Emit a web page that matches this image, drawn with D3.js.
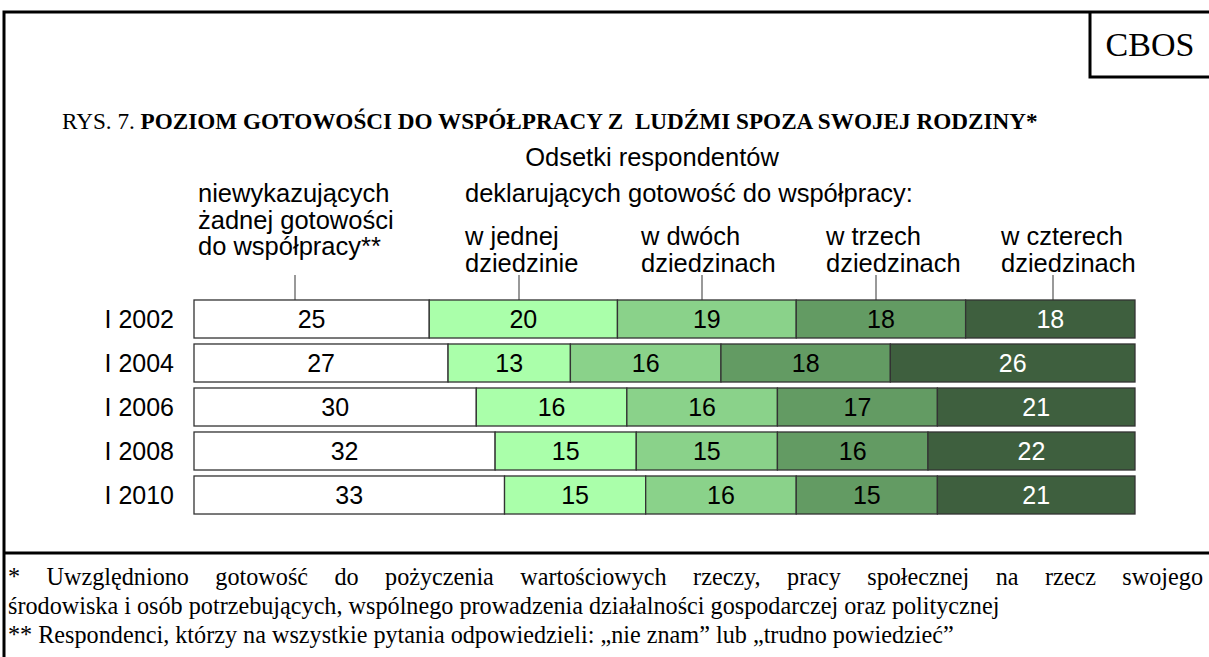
<!DOCTYPE html>
<html>
<head>
<meta charset="utf-8">
<script src="https://cdn.jsdelivr.net/npm/d3@7"></script>
<style>
  body { margin: 0; background: #fff; }
  svg { display: block; }
</style>
</head>
<body>
<div id="chart"></div>
<script>
// data
var years = ["I 2002", "I 2004", "I 2006", "I 2008", "I 2010"];
var noneValues = [25, 27, 30, 32, 33];
var oneValues = [20, 13, 16, 15, 15];
var twoValues = [19, 16, 16, 15, 16];
var threeValues = [18, 18, 17, 16, 15];
var fourValues = [18, 26, 21, 22, 21];
var seriesColors = ["#ffffff", "#aaffaa", "#8ad28a", "#639b63", "#3e5f3e"];
var headerLabels = [
    ["niewykazujących", "żadnej gotowości", "do współpracy**"],
    ["w jednej", "dziedzinie"],
    ["w dwóch", "dziedzinach"],
    ["w trzech", "dziedzinach"],
    ["w czterech", "dziedzinach"]
];

var width = 1209,
    height = 657;

var svg = d3.select("#chart").append("svg")
    .attr("width", width)
    .attr("height", height);

var serif = "'Liberation Serif', 'Times New Roman', serif",
    sans = "'Liberation Sans', Arial, sans-serif";

// frame
svg.append("path")
    .attr("d", "M4,720 V12 H1212")
    .attr("fill", "none")
    .attr("stroke", "#000")
    .attr("stroke-width", 3);
svg.append("path")
    .attr("d", "M1090,12 V77 H1212")
    .attr("fill", "none")
    .attr("stroke", "#000")
    .attr("stroke-width", 3);
svg.append("line")
    .attr("x1", 4).attr("x2", 1212)
    .attr("y1", 553).attr("y2", 553)
    .attr("stroke", "#000")
    .attr("stroke-width", 3);

svg.append("text")
    .attr("x", 1150).attr("y", 56)
    .attr("text-anchor", "middle")
    .style("font-family", serif)
    .style("font-size", "34px")
    .text("CBOS");

// title
var title = svg.append("text")
    .attr("x", 62).attr("y", 129)
    .style("font-family", serif)
    .style("font-size", "23.2px");
title.append("tspan").text("RYS. 7. ");
title.append("tspan")
    .style("font-weight", "bold")
    .text("POZIOM GOTOWOŚCI DO WSPÓŁPRACY Z\u00a0 LUDŹMI SPOZA SWOJEJ RODZINY*");

// scales
var x = d3.scaleLinear()
    .domain([0, 100])
    .range([194, 1135]);

var y = d3.scaleBand()
    .domain(years)
    .range([297, 517])
    .paddingInner(0.136)
    .paddingOuter(0.068);

// stack the series
var keys = ["none", "one", "two", "three", "four"];
var rows = years.map(function (yr, i) {
    return {
        year: yr,
        none: noneValues[i],
        one: oneValues[i],
        two: twoValues[i],
        three: threeValues[i],
        four: fourValues[i]
    };
});
var stacked = d3.stack().keys(keys)(rows);

// header texts
var headSize = "25.5px";
svg.append("text")
    .attr("x", 652).attr("y", 166)
    .attr("text-anchor", "middle")
    .style("font-family", sans)
    .style("font-size", headSize)
    .text("Odsetki respondentów");

svg.append("text")
    .attr("x", 465).attr("y", 202)
    .style("font-family", sans)
    .style("font-size", headSize)
    .text("deklarujących gotowość do współpracy:");

var headerX = [198, 465, 641, 826, 1001],
    headerY = [202, 245, 245, 245, 245],
    tickX = [295, 519, 702, 876, 1053];

headerLabels.forEach(function (lines, i) {
    var t = svg.append("text")
        .style("font-family", sans)
        .style("font-size", headSize);
    lines.forEach(function (line, j) {
        t.append("tspan")
            .attr("x", headerX[i])
            .attr("y", headerY[i] + j * 26.5)
            .text(line);
    });
    svg.append("line")
        .attr("x1", tickX[i]).attr("x2", tickX[i])
        .attr("y1", 275).attr("y2", y(years[0]))
        .attr("stroke", "#555")
        .attr("stroke-width", 1.2);
});

// bars
var layers = svg.selectAll(".layer")
    .data(stacked)
    .enter().append("g")
    .attr("class", "layer")
    .attr("fill", function (d, i) { return seriesColors[i]; });

layers.selectAll("rect")
    .data(function (d) { return d; })
    .enter().append("rect")
    .attr("x", function (d) { return x(d[0]); })
    .attr("y", function (d) { return y(d.data.year); })
    .attr("width", function (d) { return x(d[1]) - x(d[0]); })
    .attr("height", y.bandwidth())
    .attr("stroke", "#333")
    .attr("stroke-width", 1.3);

// values
layers.each(function (layer, i) {
    d3.select(this).selectAll(".val")
        .data(layer)
        .enter().append("text")
        .attr("class", "val")
        .attr("x", function (d) { return (x(d[0]) + x(d[1])) / 2; })
        .attr("y", function (d) { return y(d.data.year) + y.bandwidth() / 2; })
        .attr("dy", "0.36em")
        .attr("text-anchor", "middle")
        .attr("fill", i === 4 ? "#fff" : "#000")
        .style("font-family", sans)
        .style("font-size", "25px")
        .text(function (d) { return d[1] - d[0]; });
});

// row labels
var yAxis = svg.append("g")
    .attr("transform", "translate(174,0)")
    .call(d3.axisLeft(y).tickSize(0).tickPadding(0));
yAxis.select(".domain").remove();
yAxis.selectAll("text")
    .attr("dy", "0.36em")
    .style("font-family", sans)
    .style("font-size", "25px")
    .attr("fill", "#000");

// footnotes
var notes = [
    "* Uwzględniono gotowość do pożyczenia wartościowych rzeczy, pracy społecznej na rzecz swojego",
    "środowiska i osób potrzebujących, wspólnego prowadzenia działalności gospodarczej oraz politycznej",
    "** Respondenci, którzy na wszystkie pytania odpowiedzieli: „nie znam” lub „trudno powiedzieć”"
];
svg.selectAll(".note")
    .data(notes)
    .enter().append("text")
    .attr("class", "note")
    .attr("x", 8)
    .attr("y", function (d, i) { return 585 + i * 29; })
    .style("font-family", serif)
    .style("font-size", "24.2px")
    .text(function (d) { return d; })
    .each(function (d, i) {
        // first line is justified by stretching the word gaps
        if (i === 0) {
            var w = this.getComputedTextLength(),
                gaps = d.split(" ").length - 1;
            d3.select(this).style("word-spacing", ((1195 - w) / gaps) + "px");
        }
    });
</script>
</body>
</html>
